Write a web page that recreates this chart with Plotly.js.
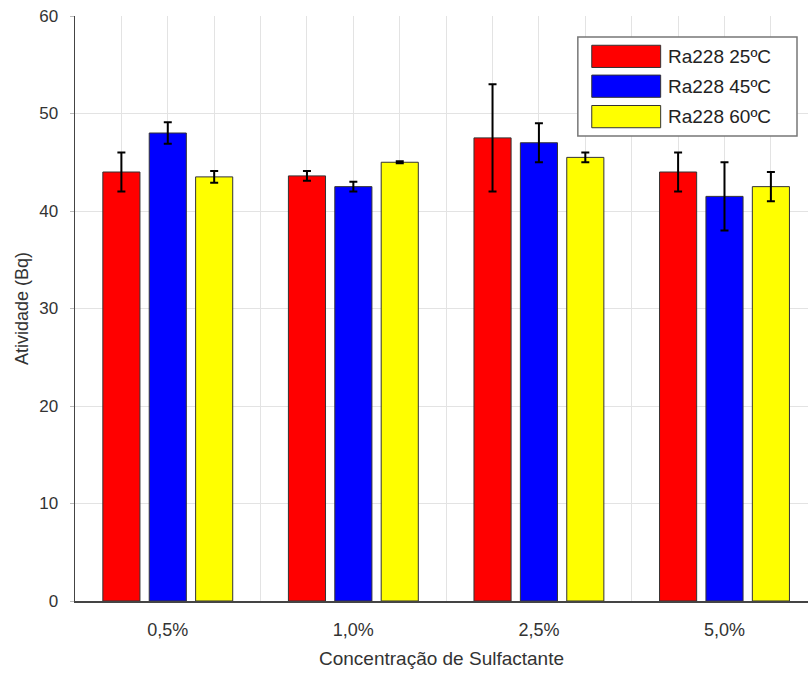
<!DOCTYPE html>
<html>
<head>
<meta charset="utf-8">
<script src="https://cdn.plot.ly/plotly-3.0.1.min.js"></script>
<style>html,body{margin:0;padding:0;background:#fff;} #chart{width:809px;height:673px;}</style>
</head>
<body>
<div id="chart"></div>
<script>
// ---- data ----
const categories = ["0,5%", "1,0%", "2,5%", "5,0%"];
const seriesNames = ["Ra228 25ºC", "Ra228 45ºC", "Ra228 60ºC"];
const ra25 = [44.0, 43.6, 47.5, 44.0];
const ra25err = [2.0, 0.5, 5.5, 2.0];
const ra45 = [48.0, 42.5, 47.0, 41.5];
const ra45err = [1.1, 0.5, 2.0, 3.5];
const ra60 = [43.5, 45.0, 45.5, 42.5];
const ra60err = [0.6, 0.1, 0.5, 1.5];
const colors = ["#ff0000", "#0000ff", "#ffff00"];

const values = [ra25, ra45, ra60];
const errs = [ra25err, ra45err, ra60err];
const groupSize = seriesNames.length + 1; // 3 bars + 1 gap

const traces = values.map((vals, s) => ({
  type: "bar",
  name: seriesNames[s],
  x: categories.map((c, g) => g * groupSize + 1 + s),
  y: vals,
  width: 0.8,
  marker: {color: colors[s], line: {color: "#333", width: 1}},
  error_y: {type: "data", array: errs[s], visible: true, color: "#000", thickness: 2, width: 4},
  showlegend: false,
  hoverinfo: "x+y"
}));

const nSlots = categories.length * groupSize;
const tickvals = [], ticktext = [];
for (let i = 1; i < nSlots; i++) {
  tickvals.push(i);
  const g = Math.floor(i / groupSize);
  ticktext.push(i === g * groupSize + 2 ? categories[g] : "");
}

// legend drawn as a boxed key (paper coords)
const shapes = [{type: "rect", xref: "paper", yref: "paper", x0: 0.686, x1: 0.985, y0: 0.795, y1: 0.964,
  fillcolor: "#fff", line: {color: "#777", width: 1.5}, layer: "above"}];
const annotations = [];
const rowTop = [0.950, 0.899, 0.847];
seriesNames.forEach((n, s) => {
  shapes.push({type: "rect", xref: "paper", yref: "paper", x0: 0.705, x1: 0.799, y0: rowTop[s] - 0.038, y1: rowTop[s],
    fillcolor: colors[s], line: {color: "#333", width: 1}, layer: "above"});
  annotations.push({xref: "paper", yref: "paper", x: 0.806, y: rowTop[s] - 0.019, xanchor: "left", yanchor: "middle",
    text: n, showarrow: false, font: {size: 19, color: "#222", family: "Liberation Sans, Arial, sans-serif"}});
});

const layout = {
  width: 809, height: 673,
  margin: {l: 75, r: 1, t: 16, b: 72},
  paper_bgcolor: "#fff", plot_bgcolor: "#fff",
  font: {family: "Liberation Sans, Arial, sans-serif", size: 17, color: "#333"},
  barmode: "overlay",
  xaxis: {
    range: [0, 15.8], tickmode: "array", tickvals: tickvals, ticktext: ticktext,
    showgrid: true, gridcolor: "#e3e3e3", gridwidth: 1, zeroline: false,
    showline: true, linecolor: "#444", linewidth: 1.5, ticks: "", ticklabelstandoff: 12,
    tickfont: {size: 18},
    title: {text: "Concentração de Sulfactante", standoff: 12, font: {size: 19, color: "#333"}}
  },
  yaxis: {
    range: [0, 60], dtick: 10, showgrid: true, gridcolor: "#e3e3e3", gridwidth: 1, zeroline: false,
    showline: true, linecolor: "#444", linewidth: 1.5, ticks: "outside", ticklen: 4, tickcolor: "#bbb",
    ticklabelstandoff: 8, tickfont: {size: 17},
    title: {text: "Atividade (Bq)", standoff: 6, font: {size: 18, color: "#333"}}
  },
  shapes: shapes,
  annotations: annotations
};

Plotly.newPlot("chart", traces, layout, {displayModeBar: false, staticPlot: true});
</script>
</body>
</html>
